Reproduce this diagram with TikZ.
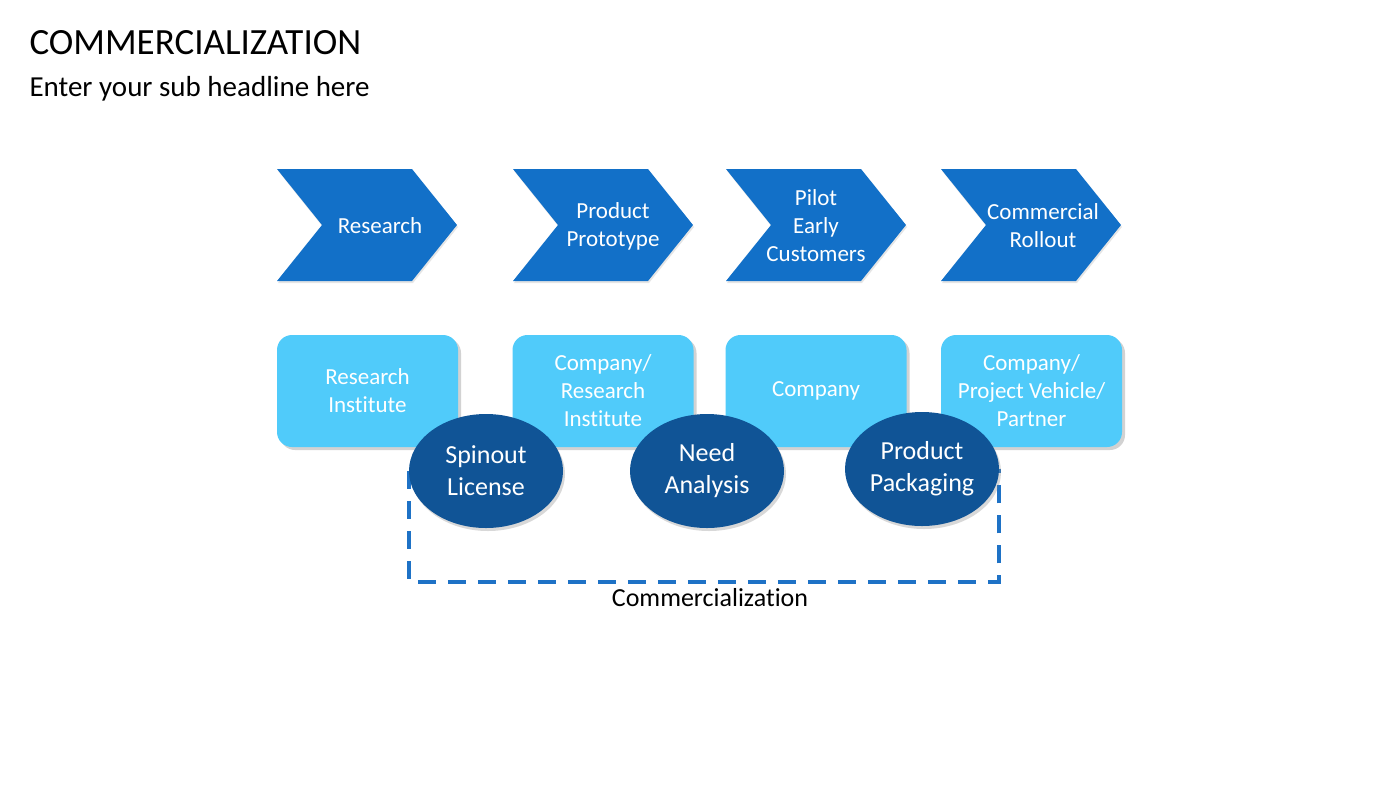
\documentclass[tikz,border=0pt]{standalone}
\usepackage{fontspec}
\setmainfont[Ligatures=NoCommon]{Carlito}
\usetikzlibrary{positioning,shapes.geometric,shadows,backgrounds}
\tikzstyle{slide} = [x=1pt, y=-1pt]
\definecolor{chevronColor}{RGB}{18,112,200}
\definecolor{ownerColor}{RGB}{80,203,250}
\definecolor{bubbleColor}{RGB}{16,84,150}
\definecolor{bracketColor}{RGB}{30,114,198}
\tikzstyle{chevronStyle} = [fill=chevronColor, draw=none, drop shadow={shadow xshift=1pt, shadow yshift=-2pt, opacity=.2}]
\tikzstyle{stageText} = [text=white, font=\fontsize{23}{28}\selectfont, align=center]
\tikzstyle{ownerStyle} = [fill=ownerColor, rectangle, rounded corners=15pt, minimum width=181pt, minimum height=112pt, inner sep=0pt, text=white, font=\fontsize{23}{28}\selectfont, align=center, drop shadow={shadow xshift=3pt, shadow yshift=-3pt, opacity=.35}]
\tikzstyle{bubbleStyle} = [fill=bubbleColor, ellipse, minimum width=154pt, minimum height=114pt, inner sep=0pt, text=white, font=\fontsize{26}{32}\selectfont, align=center, drop shadow={shadow xshift=2pt, shadow yshift=-3pt, opacity=.3}]
\tikzstyle{bracketLine} = [color=bracketColor, line width=4pt, dash pattern=on 18pt off 12pt]
\newcommand{\stageChevron}[4]{\filldraw [chevronStyle] (#2,169) -- ++(135,0) -- ++(45,56) -- ++(-45,56) -- ++(-135,0) -- ++(45,-56) -- cycle; \node [stageText] (#1) at (#3,226) {#4};}
\newcommand{\ownerBox}[3]{\node [ownerStyle] (#1) at (#2,391) {#3};}
\newcommand{\stepBubble}[4]{\node [bubbleStyle] (#1) at (#2,#3) {#4};}
\begin{document}
\begin{tikzpicture}[slide]
  \useasboundingbox (0,0) rectangle (1400,788);
  \node [anchor=base west, font=\fontsize{37}{40}\selectfont] (title) at (26,54) {COMMERCIALIZATION};
  \node [anchor=base west, font=\fontsize{29}{32}\selectfont] (subtitle) at (26,96) {Enter your sub headline here};
  \stageChevron{research}{277}{380}{Research}
  \stageChevron{prototype}{513}{613}{Product\\Prototype}
  \stageChevron{pilot}{726}{816}{Pilot\\Early\\Customers}
  \stageChevron{rollout}{941}{1043}{Commercial\\Rollout}
  \ownerBox{institute}{367.5}{Research\\Institute}
  \ownerBox{companyResearch}{603}{Company/\\Research\\Institute}
  \ownerBox{company}{816}{Company}
  \ownerBox{partner}{1031.5}{Company/\\Project Vehicle/\\Partner}
  \stepBubble{spinout}{486}{471}{Spinout\\License}
  \stepBubble{need}{707}{471}{Need\\Analysis}
  \stepBubble{packaging}{922}{469}{Product\\Packaging}
  % bracket behind the bubbles
  \begin{scope}[on background layer]
    \fill [white] (0,0) rectangle (1400,788);
    \draw [bracketLine] (spinout.west) -- ++(0,111) -| (packaging.east);
  \end{scope}
  \node [font=\fontsize{26}{30}\selectfont] (label) at (710,598) {Commercialization};
\end{tikzpicture}
\end{document}
